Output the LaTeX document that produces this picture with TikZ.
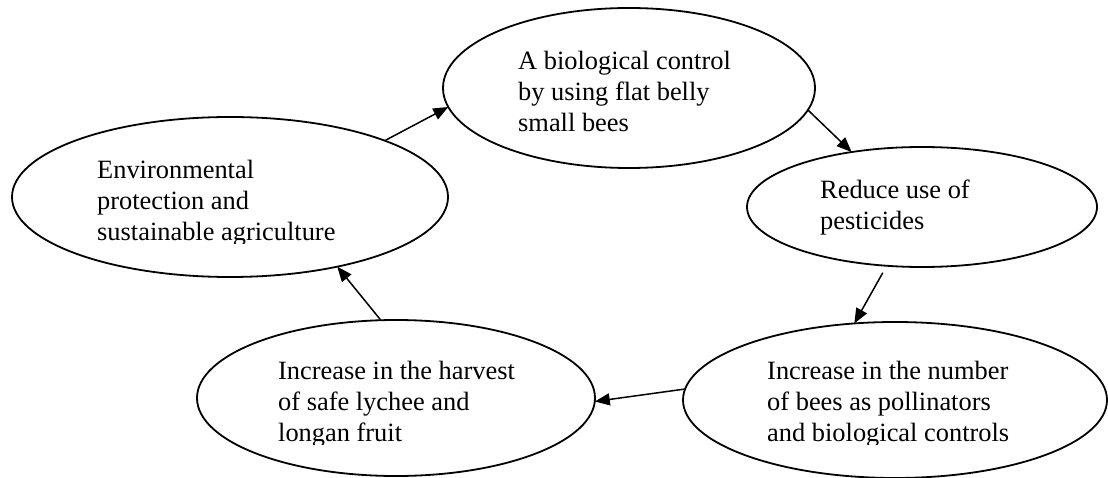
\documentclass[tikz,border=0pt]{standalone}
\usepackage{fontspec}
\setmainfont{Liberation Serif}
\usetikzlibrary{arrows.meta,shapes.geometric}
\begin{document}
\begin{tikzpicture}[x=1pt,y=-1pt,
  ell/.style={draw=black,line width=1.8pt,ellipse,inner sep=0pt,outer sep=0pt},
  lbl/.style={anchor=base west,inner sep=0pt,align=left,font=\fontsize{26.4pt}{31pt}\selectfont},
  arr/.style={draw=black,line width=1.5pt,-{Triangle[length=15pt,width=12pt]}}]
\useasboundingbox (0,0) rectangle (1108,478);
% ellipses
\node[ell,minimum width=372pt,minimum height=160pt] (top) at (629,88) {};
\node[ell,minimum width=436pt,minimum height=160pt] (left) at (230,197) {};
\node[ell,minimum width=350pt,minimum height=120pt] (right) at (922,207) {};
\node[ell,minimum width=398pt,minimum height=156pt] (bl) at (396,398) {};
\node[ell,minimum width=424pt,minimum height=156pt] (br) at (895,400) {};
% texts (anchored at the baseline of the last line)
\node[lbl] (ttop) at (518,132) {A biological control\\by using flat belly\\small bees};
\begin{scope}
\clip (60,120) rectangle (440,244);
\node[lbl] (tleft) at (97,241) {Environmental\\protection and\\sustainable agriculture};
\end{scope}
\node[lbl] (tright) at (820,230) {Reduce use of\\pesticides};
\begin{scope}
\clip (240,330) rectangle (580,444);
\node[lbl] (tbl) at (278,441) {Increase in the harvest\\of safe lychee and\\longan fruit};
\end{scope}
\begin{scope}
\clip (730,330) rectangle (1100,444);
\node[lbl] (tbr) at (767,441) {Increase in the number\\of bees as pollinators\\and biological controls};
\end{scope}
% arrows
\draw[arr] (left.20) -- (top.186);
\draw[arr] (top.353) -- (right.142);
\draw[arr,shorten <=8pt] (right.239) -- (br.118);
\draw[arr] (br.177) -- (bl.359);
\draw[arr] (bl.101) -- (left.327);
\end{tikzpicture}
\end{document}
